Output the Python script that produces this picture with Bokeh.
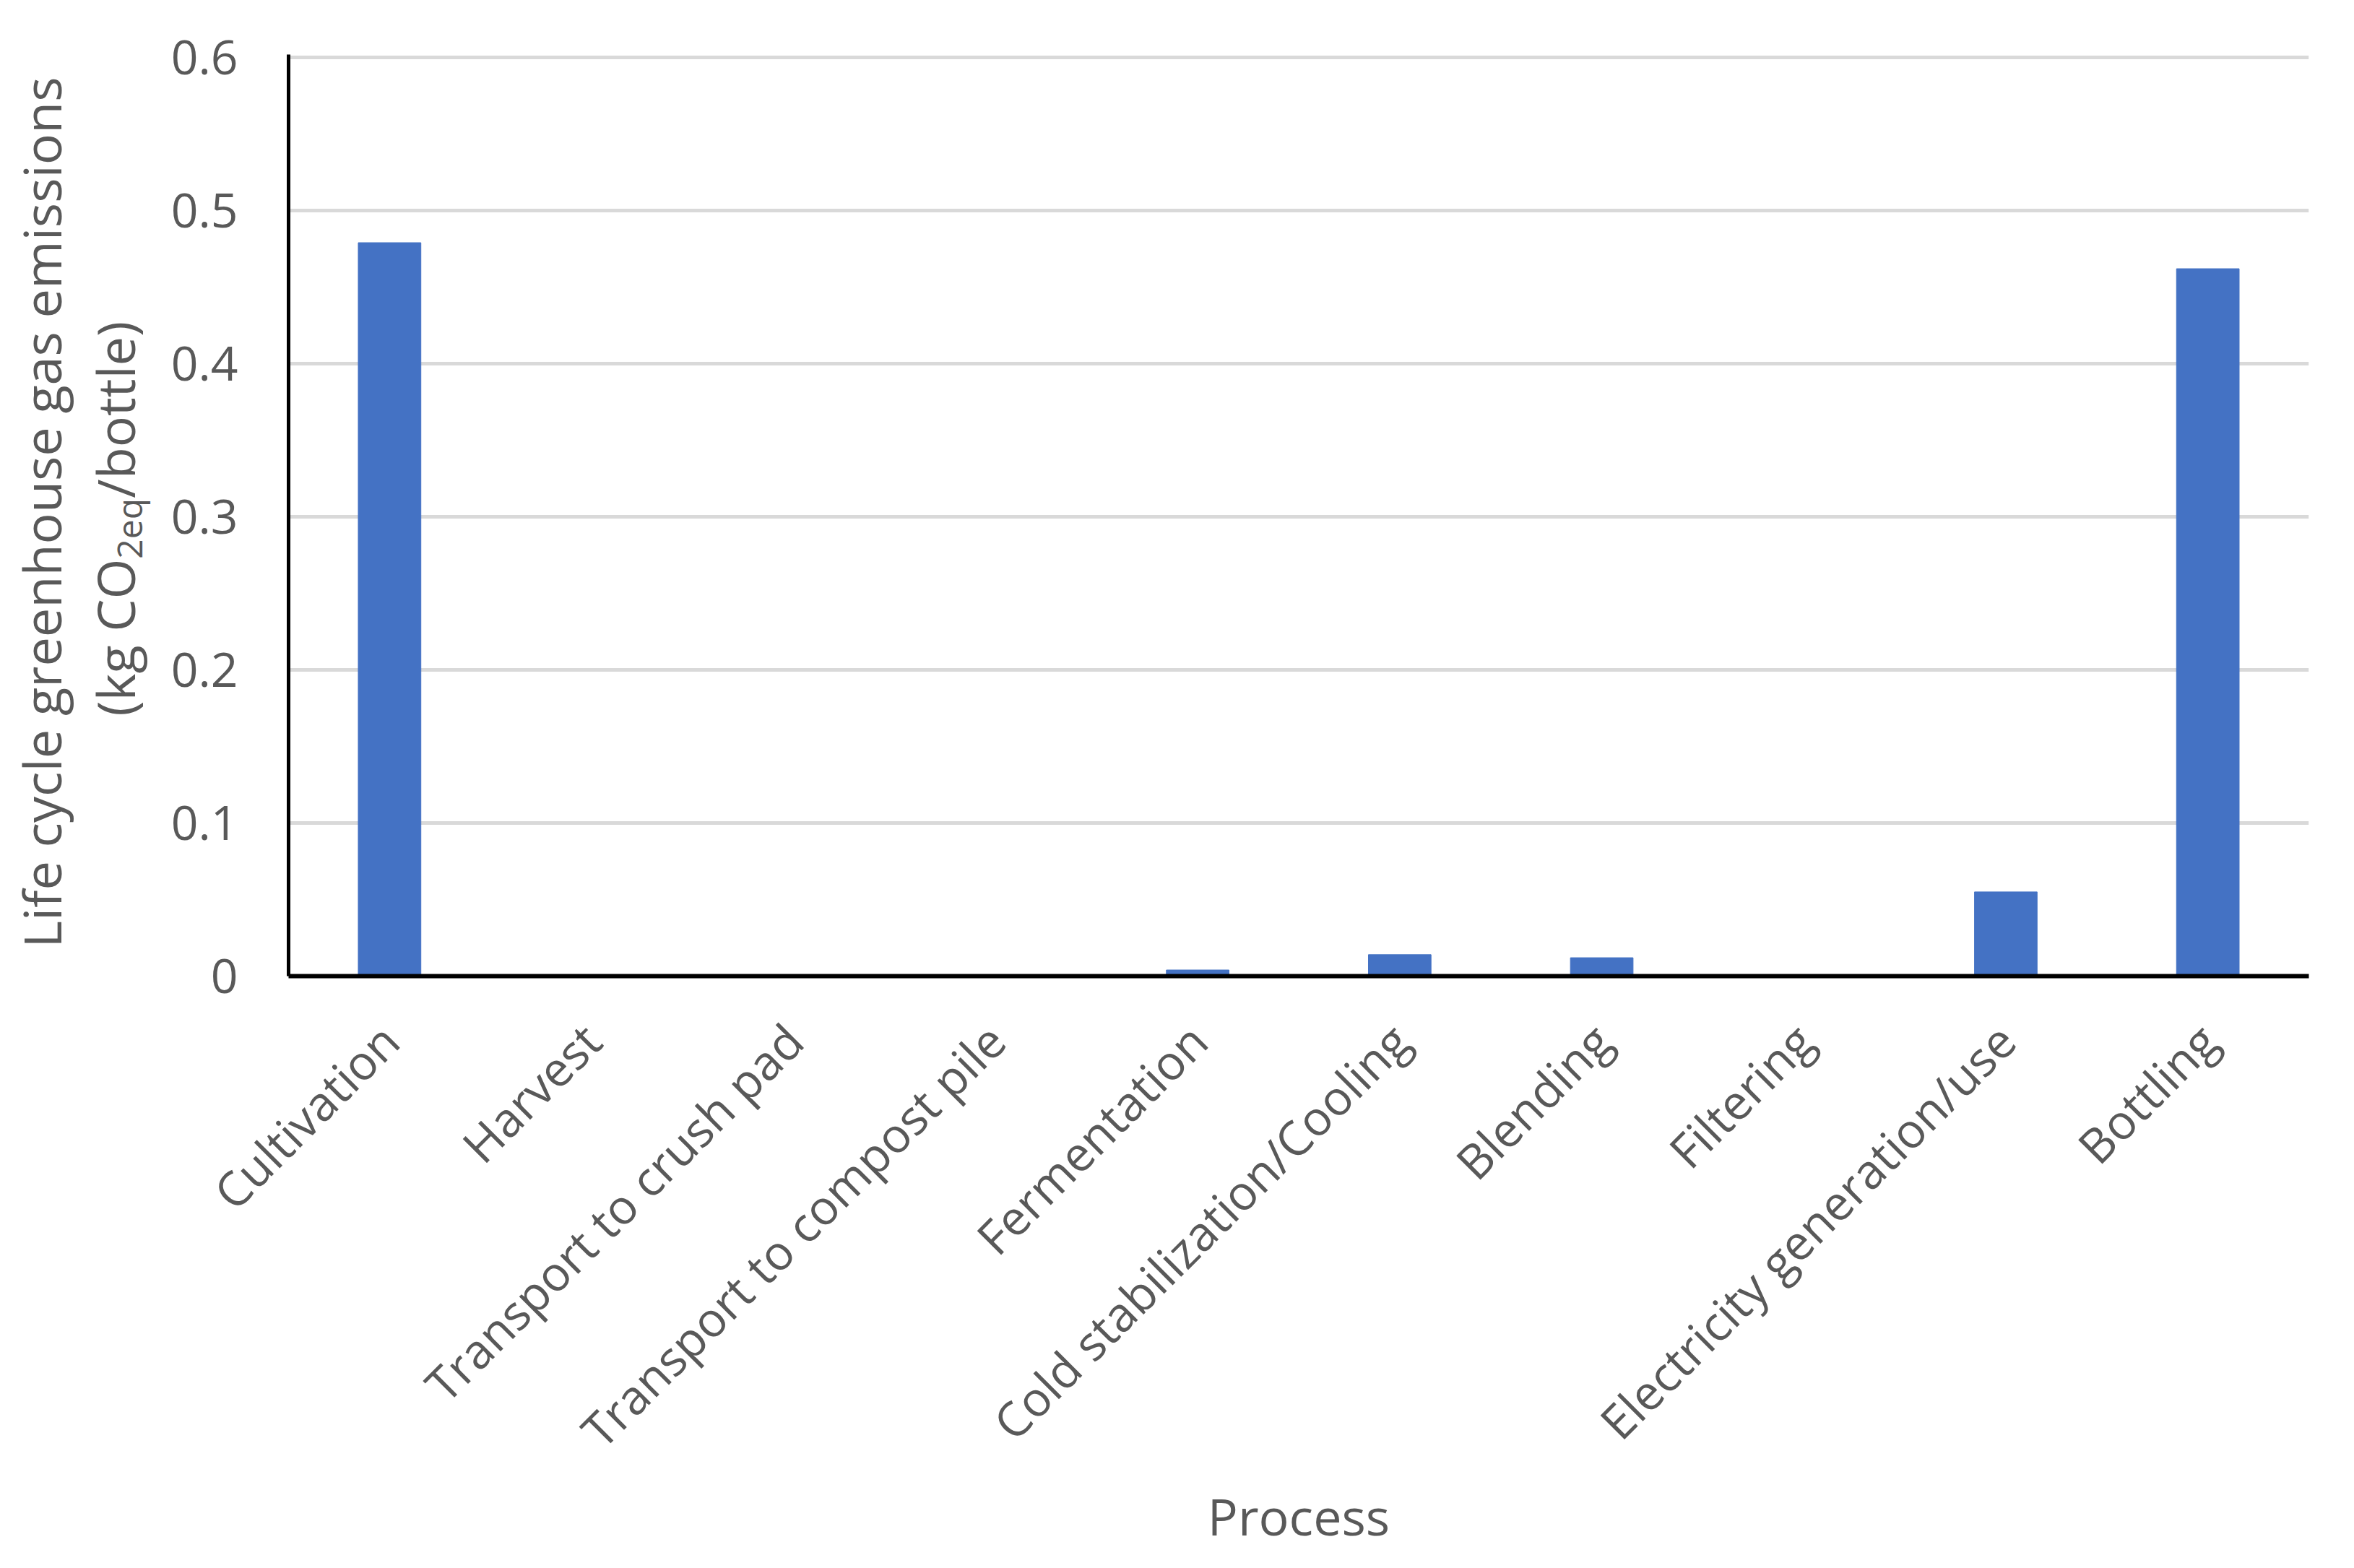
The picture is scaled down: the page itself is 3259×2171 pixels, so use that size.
import math
from bokeh.plotting import figure
from bokeh.layouts import row
from bokeh.models import NumeralTickFormatter, FixedTicker, Range1d
from bokeh.core.properties import value
from bokeh.embed import file_html
from bokeh.resources import INLINE

processes = ["Cultivation", "Harvest", "Transport to crush pad",
             "Transport to compost pile", "Fermentation",
             "Cold stabilization/Cooling", "Blending", "Filtering",
             "Electricity generation/use", "Bottling"]
emissions = [0.479, 0.0, 0.0, 0.0, 0.004, 0.014, 0.012, 0.0, 0.055, 0.462]
y_ticks = [0, 0.1, 0.2, 0.3, 0.4, 0.5, 0.6]
y_title_1 = "Life cycle greenhouse gas emissions"
y_title_2 = ["(kg CO", "2eq", "/bottle)"]

FONT = "Open Sans"
GREY = "#595959"

W, H = 3240, 2155
TW = 222                      # width of the y-title strip
PAD = 4                       # px of head-room so the 0.6 gridline is not clipped
BL, BR, BT, BB = 399 - TW, 44, 79 - PAD, 804
px_per_unit = (H - 79 - BB) / 0.6
y_top = 0.6 + PAD / px_per_unit

# ---- main chart ----
p = figure(x_range=processes, y_range=Range1d(0, y_top),
           width=W - TW, height=H, output_backend="svg",
           toolbar_location=None,
           min_border_left=BL, min_border_right=BR,
           min_border_top=BT, min_border_bottom=BB)

p.vbar(x=processes, top=emissions, width=0.31, color="#4472C4")

p.outline_line_color = None
p.xgrid.grid_line_color = None
p.ygrid.grid_line_color = "#d9d9d9"
p.ygrid.grid_line_width = 5

p.yaxis.ticker = FixedTicker(ticks=y_ticks)
p.yaxis.formatter = NumeralTickFormatter(format="0.[0]")
p.yaxis.axis_line_color = "black"
p.yaxis.axis_line_width = 5
p.yaxis.major_tick_line_color = None
p.yaxis.minor_tick_line_color = None
p.yaxis.major_label_text_font = FONT
p.yaxis.major_label_text_font_size = "66px"
p.yaxis.major_label_text_color = GREY
p.yaxis.major_label_standoff = 64

p.xaxis.axis_line_color = "black"
p.xaxis.axis_line_width = 6
p.xaxis.major_tick_line_color = None
p.xaxis.minor_tick_line_color = None
p.xaxis.major_label_orientation = math.pi / 4
p.xaxis.major_label_text_font = FONT
p.xaxis.major_label_text_font_size = "66px"
p.xaxis.major_label_text_color = GREY
p.xaxis.major_label_standoff = 71
p.xaxis.axis_label = "Process"
p.xaxis.axis_label_text_font = FONT
p.xaxis.axis_label_text_font_size = "70px"
p.xaxis.axis_label_text_font_style = "normal"
p.xaxis.axis_label_text_color = GREY
p.xaxis.axis_label_standoff = -7

# ---- y-axis title strip (shares the y range; x in pixels) ----
t = figure(width=TW, height=H, x_range=Range1d(0, TW), y_range=p.y_range,
           x_axis_type=None, y_axis_type=None, output_backend="svg",
           toolbar_location=None, min_border=0,
           min_border_top=BT, min_border_bottom=BB)
t.outline_line_color = None
t.grid.visible = False

def dy(px):
    return px / px_per_unit

XS = -30
tstyle = dict(angle=math.pi / 2, text_color=GREY, text_font=value(FONT),
              text_baseline="alphabetic")
t.text(x=[86 + XS], y=[0.3028], text=[y_title_1], text_align="center",
       text_font_size=value("72px"), **tstyle)
w1, w2, w3 = 218, 84, 244
start = 0.2985 - dy((w1 + w2 + w3) / 2)
t.text(x=[188 + XS, 188 + XS], y=[start, start + dy(w1 + w2)],
       text=[y_title_2[0], y_title_2[2]],
       text_align="left", text_font_size=value("72px"), **tstyle)
t.text(x=[208 + XS], y=[start + dy(w1)], text=[y_title_2[1]],
       text_align="left", text_font_size=value("48px"), **tstyle)

layout = row(t, p, spacing=0)
open("out.html", "w").write(file_html(layout, INLINE))
